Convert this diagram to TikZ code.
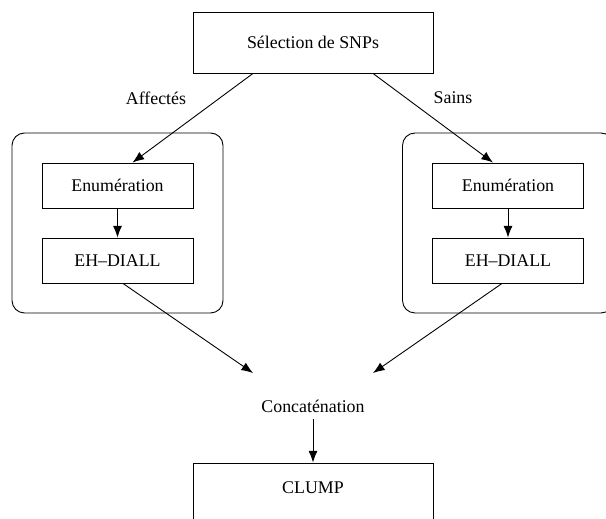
\documentclass[tikz,border=0pt]{standalone}
\usepackage{fontspec}
\setmainfont{Liberation Serif}
\usepackage{tikz}
\usetikzlibrary{arrows.meta, positioning, calc}

\begin{document}
\begin{tikzpicture}[
    x=0.56pt, y=-0.56pt,
    box/.style={rectangle, draw, line width=0.5pt,
                minimum width=240*0.56pt, minimum height=61*0.56pt,
                font=\normalsize, align=center},
    stepbox/.style={box, minimum width=151*0.56pt, minimum height=45*0.56pt},
    group/.style={rectangle, draw, line width=0.5pt, rounded corners=7pt,
                minimum width=211*0.56pt, minimum height=180*0.56pt},
    lbl/.style={font=\normalsize},
    arrow/.style={-{Latex[length=6.5pt,width=5pt]}, line width=0.5pt}
]
\useasboundingbox (0,0) rectangle (606,519);

%% --- Top and bottom boxes ---
\node[box] (sel)   at (313,42.5)  {S\'election de SNPs};
\node[box] (clump) at (313,493.5) {};
\node[lbl] at ($(clump.north)+(0,25)$) (clumptxt) {CLUMP};

%% --- Groups ---
\node[group] (grp_a) at (117.5,223) {};
\node[group] (grp_s) at (508,223) {};

\node[stepbox] (enum_a)  at (117.5,185.5) {Enum\'eration};
\node[stepbox] (diall_a) at (117.5,260.5) {EH--DIALL};
\node[stepbox] (enum_s)  at (508,185.5)   {Enum\'eration};
\node[stepbox] (diall_s) at (508,260.5)   {EH--DIALL};

%% --- Labels ---
\node[lbl] (aff)    at (156,98)  {Affect\'es};
\node[lbl] (sains)  at (453,98)  {Sains};
\node[lbl] (concat) at (313,406) {Concat\'enation};

\coordinate (in_a) at ($(concat)+(-60,-33)$);
\coordinate (in_s) at ($(concat)+(60,-33)$);

%% --- Arrows ---
\draw[arrow] ($(sel.south)+(-60,0)$) -- ($(enum_a.north)+(15,0)$);
\draw[arrow] ($(sel.south)+(60,0)$)  -- ($(enum_s.north)+(-15,0)$);
\draw[arrow] (enum_a) -- (diall_a);
\draw[arrow] (enum_s) -- (diall_s);
\draw[arrow] ($(diall_a.south)+(5.5,0)$) -- (in_a);
\draw[arrow] ($(diall_s.south)+(-6,0)$)  -- (in_s);
\draw[arrow] (concat) -- (clump.north);

\end{tikzpicture}
\end{document}
